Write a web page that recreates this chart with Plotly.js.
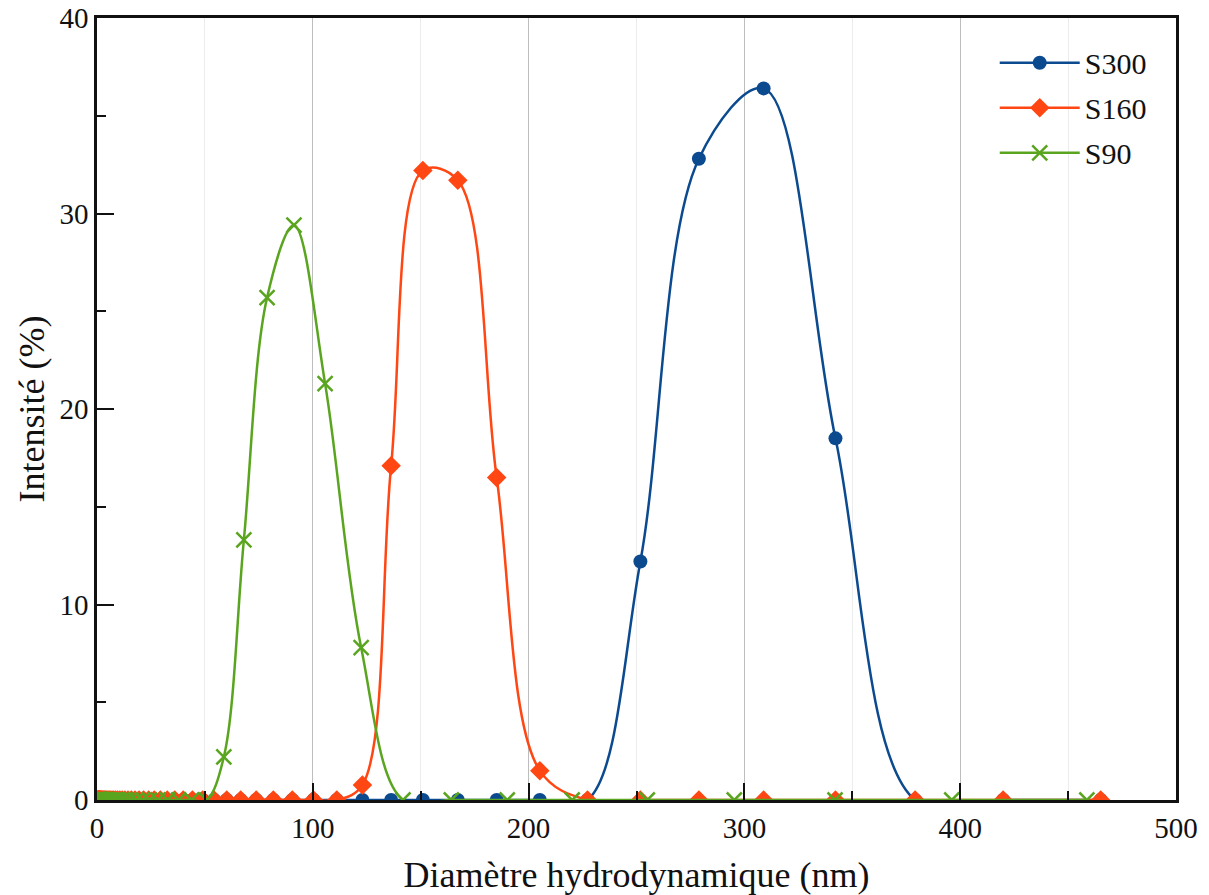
<!DOCTYPE html>
<html>
<head>
<meta charset="utf-8">
<script src="https://cdn.plot.ly/plotly-3.0.1.min.js"></script>
<style>html,body{margin:0;padding:0;background:#fff;}#chart{width:1209px;height:895px;}</style>
</head>
<body>
<div id="chart"></div>
<script>
// Size bins (nm): S300 and S160 share one bin set, S90 uses another
const binsA = [0.4, 0.4431, 0.4908, 0.5437, 0.6022, 0.6671, 0.7389, 0.8185, 0.9067, 1.004,
  1.112, 1.232, 1.365, 1.512, 1.675, 1.855, 2.055, 2.276, 2.521, 2.793,
  3.094, 3.427, 3.796, 4.205, 4.658, 5.160, 5.716, 6.331, 7.013, 7.769,
  8.606, 9.533, 10.56, 11.70, 12.96, 14.35, 15.90, 17.61, 19.51, 21.61,
  23.94, 26.52, 29.37, 32.54, 36.04, 39.93, 44.23, 48.99, 54.27, 60.11,
  66.59, 73.76, 81.71, 90.51, 100.3, 111.1, 123.0, 136.3, 151.0, 167.2,
  185.2, 205.2, 227.3, 251.8, 278.9, 308.9, 342.2, 379.1, 419.9, 465.1];
const s300 = [0,0,0,0,0,0,0,0,0,0, 0,0,0,0,0,0,0,0,0,0, 0,0,0,0,0,0,0,0,0,0,
  0,0,0,0,0,0,0,0,0,0, 0,0,0,0,0,0,0,0,0,0, 0,0,0,0,0,0,0,0,0,0,
  0,0,0,12.2,32.8,36.4,18.5,0,0,0];
const s160 = [0,0,0,0,0,0,0,0,0,0, 0,0,0,0,0,0,0,0,0,0, 0,0,0,0,0,0,0,0,0,0,
  0,0,0,0,0,0,0,0,0,0, 0,0,0,0,0,0,0,0,0,0, 0,0,0,0,0,0,0.77,17.1,32.2,31.7,
  16.5,1.5,0,0,0,0,0,0,0,0];
const binsB = [0.4, 0.4632, 0.5365, 0.6213, 0.7195, 0.8332, 0.9649, 1.117, 1.294, 1.499,
  1.736, 2.010, 2.328, 2.696, 3.122, 3.615, 4.187, 4.849, 5.615, 6.503,
  7.531, 8.721, 10.10, 11.70, 13.54, 15.69, 18.17, 21.04, 24.36, 28.21,
  32.67, 37.84, 43.82, 50.75, 58.77, 68.06, 78.82, 91.28, 105.7, 122.4,
  141.8, 164.2, 190.1, 220.2, 255.0, 295.3, 342.0, 396.1, 458.7];
const s90 = [0,0,0,0,0,0,0,0,0,0, 0,0,0,0,0,0,0,0,0,0, 0,0,0,0,0,0,0,0,0,0,
  0,0,0,0,2.2,13.3,25.7,29.4,21.3,7.8, 0,0,0,0,0,0,0,0,0];
const seriesNames = ['S300', 'S160', 'S90'];
const xTitle = 'Diamètre hydrodynamique (nm)';
const yTitle = 'Intensité (%)';

const FONT = 'Liberation Serif';
const traces = [
  {x: binsA, y: s300, name: seriesNames[0], legendgroup: 'a', type: 'scatter', mode: 'lines+markers',
   line: {color: '#0c4a90', width: 2.5, shape: 'spline', smoothing: 1.0},
   marker: {symbol: 'circle', size: 14, color: '#0c4a90'}},
  {x: binsA, y: s160, name: seriesNames[1], legendgroup: 'b', type: 'scatter', mode: 'lines+markers',
   line: {color: '#ff4613', width: 2.5, shape: 'spline', smoothing: 1.0},
   marker: {symbol: 'diamond', size: 15, color: '#ff4613'}},
  {x: binsB, y: s90, name: seriesNames[2], legendgroup: 'c', type: 'scatter', mode: 'lines+markers',
   line: {color: '#5aa51f', width: 2.5, shape: 'spline', smoothing: 1.0},
   marker: {symbol: 'x-thin', size: 15, color: '#5aa51f', line: {color: '#5aa51f', width: 2.5}}}
];
const layout = {
  width: 1209, height: 895,
  margin: {l: 97, r: 33, t: 18, b: 95},
  paper_bgcolor: '#fff', plot_bgcolor: '#fff',
  font: {family: FONT, color: '#111', size: 28},
  showlegend: true,
  legend: {x: 0.832, y: 0.976, xanchor: 'left', yanchor: 'top', bgcolor: 'rgba(0,0,0,0)',
           font: {family: FONT, size: 30, color: '#111'}, itemwidth: 80, tracegroupgap: 3},
  xaxis: {
    range: [0, 500], dtick: 100, tick0: 0,
    showline: true, linecolor: '#111', linewidth: 2.5, mirror: true,
    ticks: 'inside', ticklen: 17, tickwidth: 2, tickcolor: '#111',
    showgrid: true, gridcolor: '#bdbdbd', gridwidth: 1, zeroline: false,
    minor: {dtick: 50, ticks: 'inside', ticklen: 9, tickwidth: 2, tickcolor: '#111', showgrid: true, gridcolor: '#ececec', gridwidth: 1},
    tickfont: {family: FONT, size: 29, color: '#111'},
    title: {text: xTitle, font: {family: FONT, size: 36, color: '#111'}, standoff: 20}
  },
  yaxis: {
    range: [0, 40], dtick: 10, tick0: 0,
    showline: true, linecolor: '#111', linewidth: 2.5, mirror: true,
    ticks: 'inside', ticklen: 17, tickwidth: 2, tickcolor: '#111',
    showgrid: false, zeroline: false,
    minor: {dtick: 5, ticks: 'inside', ticklen: 9, tickwidth: 2, tickcolor: '#111', showgrid: false},
    tickfont: {family: FONT, size: 29, color: '#111'},
    title: {text: yTitle, font: {family: FONT, size: 36, color: '#111'}, standoff: 4}
  }
};
Plotly.newPlot('chart', traces, layout, {displayModeBar: false, responsive: false});
</script>
</body>
</html>
